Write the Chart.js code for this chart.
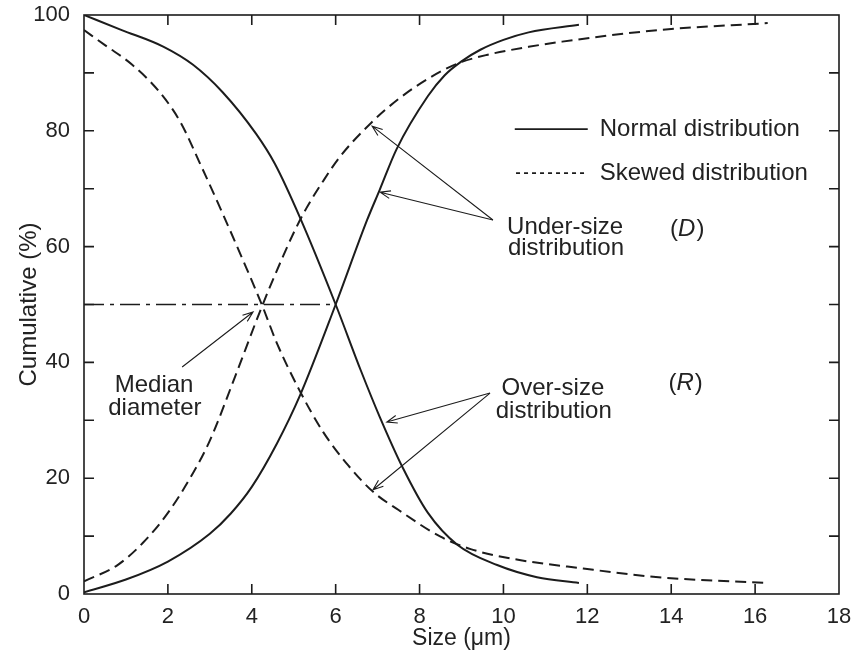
<!DOCTYPE html>
<html>
<head>
<meta charset="utf-8">
<script src="https://cdn.jsdelivr.net/npm/chart.js@4.4.1/dist/chart.umd.min.js"></script>
<style>
  html, body { margin: 0; padding: 0; background: #fff; }
  #wrap { width: 857px; height: 654px; position: relative; }
</style>
</head>
<body>
<div id="wrap"><canvas id="cumChart"></canvas></div>
<script>
// Cumulative size distributions: under-size (D) and over-size (R)
const normalUnderX = [0, 1, 2, 3, 3.5, 4, 4.6, 5.15, 6, 6.75, 7.05, 7.45, 8.2, 8.6, 9, 9.45, 10, 10.6, 11.8];
const normalUnderY = [0.3, 2.5, 5.6, 10.4, 13.9, 18.5, 26, 34.3, 50, 64.6, 69.8, 76.8, 86, 89.6, 92, 94, 95.7, 97, 98.3];

const normalOverX = [0, 0.9, 1.9, 2.6, 3.3, 4.1, 4.55, 5.15, 6, 6.6, 7.05, 7.6, 8.2, 8.9, 9.85, 10.8, 11.8];
const normalOverY = [100, 97.4, 94.5, 91.4, 86.7, 79.5, 74.3, 65, 50, 38.6, 30.6, 21.8, 14, 8.5, 5.0, 2.9, 1.9];

const skewedUnderX = [0, 0.8, 1.4, 2, 2.6, 3, 3.6, 4.25, 4.75, 5.0, 5.3, 5.7, 6.1, 6.85, 7.5, 8.25, 8.9, 9.6, 10.6, 11.4, 13.7, 16.3];
const skewedUnderY = [2.2, 5, 8.8, 14, 20.9, 26.5, 37.5, 49.8, 58.4, 62.4, 66.6, 71.3, 75.5, 81.4, 85.5, 89.2, 91.6, 93.1, 94.5, 95.4, 97.4, 98.6];

const skewedOverX = [0, 0.5, 1.15, 1.8, 2.3, 2.75, 3.3, 3.8, 4.25, 4.6, 5.15, 5.7, 6.3, 6.9, 7.5, 8.5, 9.2, 10.2, 11.9, 13.7, 16.3];
const skewedOverY = [97.4, 94.8, 91.4, 86.7, 81.5, 74.6, 65.8, 57.5, 49.8, 43.3, 35, 28, 22.2, 17.6, 14.5, 9.9, 7.8, 6.1, 4.4, 2.9, 1.9];

// 50 % line up to where the normal curves cross
const medianX = [0, 6];
const medianY = [50, 50];

const xTicks = [0, 2, 4, 6, 8, 10, 12, 14, 16, 18];
const yTicks = [0, 20, 40, 60, 80, 100];

const INK = '#1c1c1c';
const TEXT = '#222';
const FONT = '"Liberation Sans", Arial, Helvetica, sans-serif';

const toPoints = (xs, ys) => xs.map((x, i) => ({ x: x, y: ys[i] }));

// callouts, in data units
const notes = [
    { text: 'Under-size', at: [11.47, 63.4] },
    { text: 'distribution', at: [11.49, 59.7] },
    { text: 'Over-size', at: [11.18, 35.6] },
    { text: 'distribution', at: [11.2, 31.5] },
    { text: 'Median', at: [1.67, 36.1] },
    { text: 'diameter', at: [1.69, 32.1] }
];
const symbols = [
    { letter: 'D', at: [14.37, 63.0] },
    { letter: 'R', at: [14.33, 36.3] }
];
const arrows = [
    { from: [9.75, 64.6], to: [6.87, 80.8] },
    { from: [9.75, 64.6], to: [7.06, 69.4] },
    { from: [9.68, 34.7], to: [7.22, 29.7] },
    { from: [9.68, 34.7], to: [6.89, 18.0] },
    { from: [2.34, 39.2], to: [4.03, 48.7] }
];
const legendItems = [
    { text: 'Normal distribution', dash: [], at: [10.27, 12.01, 80.3] },
    { text: 'Skewed distribution', dash: [4, 4], at: [10.3, 12.01, 72.7] }
];

function drawArrow(ctx, x1, y1, x2, y2) {
    const a = Math.atan2(y2 - y1, x2 - x1);
    const h = 11, spread = 0.36;
    ctx.beginPath();
    ctx.moveTo(x1, y1);
    ctx.lineTo(x2, y2);
    ctx.moveTo(x2 - h * Math.cos(a - spread), y2 - h * Math.sin(a - spread));
    ctx.lineTo(x2, y2);
    ctx.lineTo(x2 - h * Math.cos(a + spread), y2 - h * Math.sin(a + spread));
    ctx.stroke();
}

const frameTicks = {
    id: 'frameTicks',
    afterDatasetsDraw(chart) {
        const { ctx, chartArea: { left, right, top, bottom }, scales: { x, y } } = chart;
        const len = 10;
        ctx.save();
        ctx.strokeStyle = INK;
        ctx.lineWidth = 1.6;
        ctx.strokeRect(left, top, right - left, bottom - top);
        ctx.beginPath();
        x.ticks.forEach(t => {
            if (t.value <= x.min || t.value >= x.max) return;
            const px = x.getPixelForValue(t.value);
            ctx.moveTo(px, bottom); ctx.lineTo(px, bottom - len);
            ctx.moveTo(px, top); ctx.lineTo(px, top + len);
        });
        y.ticks.forEach(t => {
            if (t.value <= y.min || t.value >= y.max) return;
            const py = y.getPixelForValue(t.value);
            ctx.moveTo(left, py); ctx.lineTo(left + len, py);
            ctx.moveTo(right, py); ctx.lineTo(right - len, py);
        });
        ctx.stroke();
        ctx.restore();
    }
};

const callouts = {
    id: 'callouts',
    afterDraw(chart) {
        const { ctx, scales: { x, y } } = chart;
        const X = v => x.getPixelForValue(v);
        const Y = v => y.getPixelForValue(v);
        ctx.save();

        ctx.strokeStyle = INK;
        ctx.lineWidth = 1.1;
        arrows.forEach(a => drawArrow(ctx, X(a.from[0]), Y(a.from[1]), X(a.to[0]), Y(a.to[1])));

        ctx.fillStyle = TEXT;
        ctx.textBaseline = 'middle';
        ctx.font = '24px ' + FONT;
        ctx.textAlign = 'center';
        notes.forEach(n => ctx.fillText(n.text, X(n.at[0]), Y(n.at[1])));

        // "(D)" and "(R)" with an italic letter
        symbols.forEach(s => {
            const upright = '24px ' + FONT;
            const italic = 'italic 24px ' + FONT;
            ctx.font = upright;
            const wp = ctx.measureText('(').width;
            const wq = ctx.measureText(')').width;
            ctx.font = italic;
            const wl = ctx.measureText(s.letter).width;
            let cx = X(s.at[0]) - (wp + wl + wq) / 2;
            const cy = Y(s.at[1]);
            ctx.textAlign = 'left';
            ctx.font = upright;
            ctx.fillText('(', cx, cy);
            cx += wp;
            ctx.font = italic;
            ctx.fillText(s.letter, cx, cy);
            cx += wl + 1;
            ctx.font = upright;
            ctx.fillText(')', cx, cy);
        });

        // key
        legendItems.forEach(item => {
            const py = Y(item.at[2]);
            ctx.beginPath();
            ctx.setLineDash(item.dash);
            ctx.lineWidth = 1.8;
            ctx.moveTo(X(item.at[0]), py);
            ctx.lineTo(X(item.at[1]), py);
            ctx.stroke();
            ctx.setLineDash([]);
            ctx.font = '24px ' + FONT;
            ctx.textAlign = 'left';
            ctx.fillText(item.text, X(item.at[1]) + 12, py);
        });
        ctx.restore();
    }
};

const curve = (xs, ys, dash) => ({
    data: toPoints(xs, ys),
    borderColor: INK,
    borderWidth: 2,
    borderDash: dash,
    borderCapStyle: 'butt',
    pointRadius: 0,
    fill: false,
    cubicInterpolationMode: 'monotone'
});

new Chart(document.getElementById('cumChart'), {
    type: 'line',
    data: {
        datasets: [
            curve(normalUnderX, normalUnderY, []),
            curve(normalOverX, normalOverY, []),
            curve(skewedUnderX, skewedUnderY, [11, 6]),
            curve(skewedOverX, skewedOverY, [11, 6]),
            {
                data: toPoints(medianX, medianY),
                borderColor: INK,
                borderWidth: 1.3,
                borderDash: [20, 6, 4, 6],
                pointRadius: 0,
                fill: false
            }
        ]
    },
    options: {
        responsive: true,
        maintainAspectRatio: false,
        animation: false,
        layout: { padding: { top: 15, right: 18, left: 0, bottom: 0 } },
        plugins: {
            legend: { display: false },
            tooltip: { enabled: false }
        },
        scales: {
            x: {
                type: 'linear',
                min: 0,
                max: 18,
                grid: { display: false, drawTicks: false },
                border: { display: false },
                afterBuildTicks: scale => { scale.ticks = xTicks.map(v => ({ value: v })); },
                afterFit: scale => {
                    scale.height = 60;
                    scale.paddingLeft = 0;
                    scale.paddingRight = 0;
                },
                ticks: {
                    color: TEXT,
                    font: { family: FONT, size: 22 },
                    padding: 10,
                    autoSkip: false,
                    maxRotation: 0
                },
                title: {
                    display: true,
                    text: 'Size (μm)',
                    color: TEXT,
                    font: { family: FONT, size: 23 },
                    padding: { top: 0, bottom: 2 }
                }
            },
            y: {
                min: 0,
                max: 100,
                grid: { display: false, drawTicks: false },
                border: { display: false },
                afterBuildTicks: scale => {
                    const all = [];
                    for (let v = 0; v <= 100; v += 10) all.push({ value: v });
                    scale.ticks = all;
                },
                afterFit: scale => {
                    scale.width = 84;
                    scale.paddingTop = 0;
                    scale.paddingBottom = 0;
                },
                ticks: {
                    color: TEXT,
                    font: { family: FONT, size: 22 },
                    padding: 14,
                    autoSkip: false,
                    callback: v => yTicks.includes(v) ? String(v) : ''
                },
                title: {
                    display: true,
                    text: 'Cumulative (%)',
                    color: TEXT,
                    font: { family: FONT, size: 24 },
                    padding: { top: 15, bottom: 0 }
                }
            }
        }
    },
    plugins: [frameTicks, callouts]
});
</script>
</body>
</html>
